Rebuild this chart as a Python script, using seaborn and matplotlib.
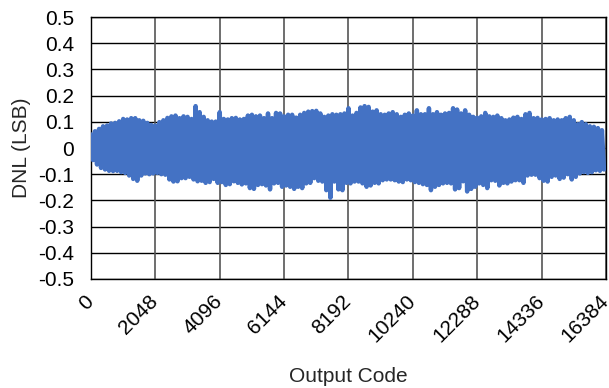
import numpy as np
import pandas as pd
import seaborn as sns
import matplotlib
matplotlib.use("Agg")
import matplotlib.pyplot as plt

# DNL envelope: one positive peak and one negative peak
# per 128-code block (positive at the block start, negative half way through)
block = 128
dnl_peak_hi = [
    0.052, 0.064, 0.073, 0.083, 0.086, 0.094, 0.096, 0.102, 0.111, 0.109,
    0.114, 0.114, 0.106, 0.104, 0.096, 0.088, 0.086, 0.099, 0.106,
    0.115, 0.121, 0.124, 0.114, 0.121, 0.119, 0.111, 0.160, 0.137, 0.119,
    0.106, 0.101, 0.101, 0.137, 0.111, 0.109, 0.114, 0.115,
    0.109, 0.111, 0.124, 0.127, 0.121, 0.124, 0.114, 0.132, 0.114, 0.134,
    0.132, 0.121, 0.127, 0.127, 0.116, 0.127, 0.134, 0.139,
    0.141, 0.142, 0.132, 0.119, 0.124, 0.129, 0.127, 0.129, 0.132, 0.152,
    0.124, 0.134, 0.155, 0.160, 0.157, 0.139, 0.144, 0.129, 0.127,
    0.132, 0.137, 0.129, 0.119, 0.127, 0.132, 0.124, 0.144, 0.129, 0.129,
    0.152, 0.129, 0.137, 0.127, 0.132, 0.134, 0.152, 0.147,
    0.132, 0.144, 0.127, 0.119, 0.116, 0.121, 0.134, 0.121, 0.119, 0.124,
    0.114, 0.106, 0.109, 0.116, 0.119, 0.111, 0.129, 0.134, 0.114,
    0.115, 0.109, 0.111, 0.114, 0.106, 0.109, 0.106, 0.114, 0.119, 0.106,
    0.091, 0.099, 0.091, 0.083, 0.081, 0.076, 0.068,
]
dnl_peak_lo = [
    -0.046, -0.063, -0.076, -0.082, -0.087, -0.088, -0.087, -0.092, -0.095, -0.105,
    -0.118, -0.125, -0.105, -0.097, -0.100, -0.097, -0.095, -0.100, -0.102,
    -0.120, -0.128, -0.127, -0.115, -0.115, -0.110, -0.120, -0.127, -0.125,
    -0.133, -0.130, -0.118, -0.133, -0.130, -0.141, -0.138, -0.127, -0.133,
    -0.139, -0.135, -0.153, -0.156, -0.141, -0.138, -0.143, -0.158, -0.135,
    -0.133, -0.148, -0.143, -0.148, -0.156, -0.148, -0.153, -0.135, -0.133,
    -0.115, -0.125, -0.128, -0.161, -0.190, -0.128, -0.158, -0.161, -0.133, -0.135,
    -0.128, -0.128, -0.135, -0.148, -0.143, -0.133, -0.135, -0.123, -0.120,
    -0.120, -0.123, -0.128, -0.130, -0.120, -0.123, -0.130, -0.133, -0.138,
    -0.141, -0.161, -0.148, -0.141, -0.135, -0.133, -0.135, -0.158, -0.153,
    -0.127, -0.166, -0.156, -0.148, -0.135, -0.141, -0.153, -0.123, -0.125, -0.143,
    -0.133, -0.135, -0.128, -0.123, -0.123, -0.133, -0.105, -0.102, -0.102,
    -0.115, -0.125, -0.128, -0.110, -0.105, -0.118, -0.113, -0.100, -0.120, -0.110,
    -0.097, -0.092, -0.095, -0.092, -0.085, -0.087, -0.082,
]
x_ticks = [0, 2048, 4096, 6144, 8192, 10240, 12288, 14336, 16384]
y_ticks = [0.5, 0.4, 0.3, 0.2, 0.1, 0, -0.1, -0.2, -0.3, -0.4, -0.5]

n = len(dnl_peak_hi)
codes = np.empty(2 * n)
codes[0::2] = np.arange(n) * block
codes[1::2] = np.arange(n) * block + block // 2
dnl = np.empty(2 * n)
dnl[0::2] = dnl_peak_hi
dnl[1::2] = dnl_peak_lo
df = pd.DataFrame({"code": codes, "dnl": dnl})

sns.set_style("white")
plt.rcParams["font.family"] = ["Liberation Sans", "DejaVu Sans"]

fig = plt.figure(figsize=(6.09, 3.88), dpi=100)
ax = fig.add_axes([0.1494, 0.281, 0.8456, 0.675])

sns.lineplot(data=df, x="code", y="dnl", ax=ax, color="#4472C4", lw=3.2,
             estimator=None, sort=False, zorder=3)
ax.lines[-1].set_solid_joinstyle("round")
ax.lines[-1].set_solid_capstyle("round")

ax.set_xlim(0, 16384)
ax.set_ylim(-0.5, 0.5)
ax.set_xticks(x_ticks)
ax.set_xticklabels([str(t) for t in x_ticks], rotation=45, ha="right",
                   va="center", rotation_mode="anchor")
ax.set_yticks(y_ticks)
ax.set_yticklabels(["0" if t == 0 else f"{t:.1f}" for t in y_ticks])

for t in y_ticks:
    ax.axhline(t, color="black", lw=1, zorder=1)
for t in x_ticks:
    ax.axvline(t, color="#555555", lw=1.2, zorder=1)

for s in ax.spines.values():
    s.set_color("black")
    s.set_linewidth(1)
    s.set_visible(True)

ax.tick_params(axis="y", length=0, pad=12, labelsize=15, colors="black")
ax.tick_params(axis="x", length=0, pad=14, labelsize=15, colors="black")
ax.set_xlabel("Output Code", fontsize=15, labelpad=15)
ax.set_ylabel("DNL (LSB)", fontsize=15, labelpad=5)

fig.savefig("out.png", dpi=100)
